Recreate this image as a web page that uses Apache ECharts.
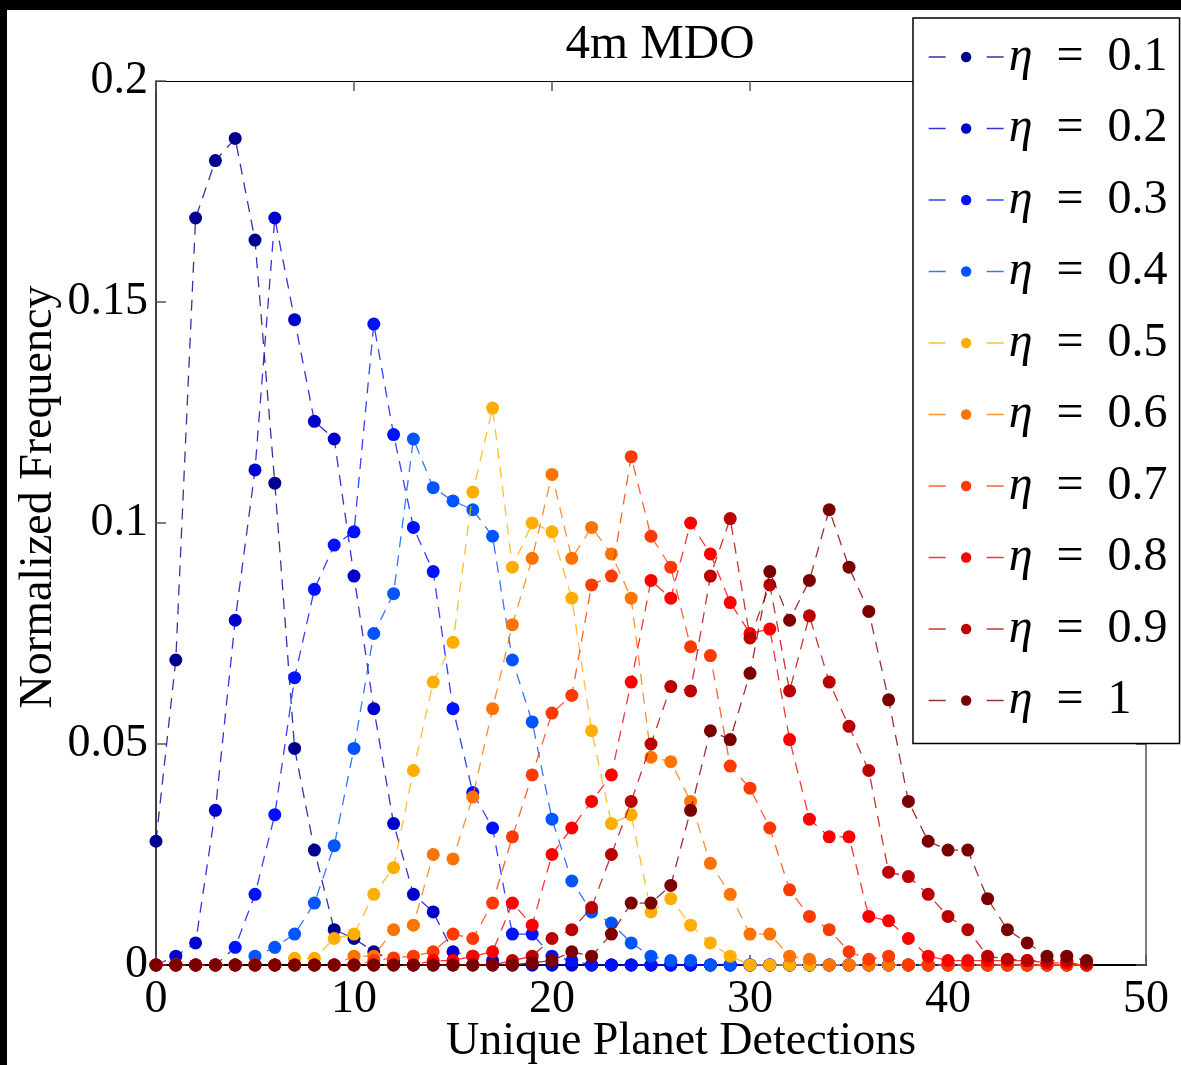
<!DOCTYPE html>
<html>
<head>
<meta charset="utf-8">
<script src="https://cdn.jsdelivr.net/npm/echarts@6/dist/echarts.min.js"></script>
<style>
html,body{margin:0;padding:0;background:#000;width:1181px;height:1065px;overflow:hidden;}
#chart{position:absolute;left:7px;top:10px;width:1174px;height:1055px;background:#fff;}
</style>
</head>
<body>
<div id="chart"></div>
<script>
// Unique planet detections (x), 0..47
const detections = Array.from({length: 48}, (_, i) => i);
const etaLabels = ['0.1','0.2','0.3','0.4','0.5','0.6','0.7','0.8','0.9','1'];
const xTicks = [0, 10, 20, 30, 40, 50];
const yTicks = [0, 0.05, 0.1, 0.15, 0.2];

const eta01 = [0.028,0.069,0.169,0.182,0.187,0.164,0.109,0.049,0.026,0.008,0.006,0.003,0.001,0,0,0,0,0,0,0,0,0,0,0,0,0,0,0,0,0,0,0,0,0,0,0,0,0,0,0,0,0,0,0,0,0,0,0];
const eta02 = [0,0.002,0.005,0.035,0.078,0.112,0.169,0.146,0.123,0.119,0.088,0.058,0.032,0.016,0.012,0.003,0.002,0.001,0,0,0,0,0,0,0,0,0,0,0,0,0,0,0,0,0,0,0,0,0,0,0,0,0,0,0,0,0,0];
const eta03 = [0,0,0,0,0.004,0.016,0.034,0.065,0.085,0.095,0.098,0.145,0.120,0.099,0.089,0.058,0.039,0.031,0.007,0.007,0.002,0.001,0,0,0,0,0,0,0,0,0,0,0,0,0,0,0,0,0,0,0,0,0,0,0,0,0,0];
const eta04 = [0,0,0,0,0,0.002,0.004,0.007,0.014,0.027,0.049,0.075,0.084,0.119,0.108,0.105,0.103,0.097,0.069,0.055,0.033,0.019,0.012,0.0095,0.005,0.002,0.001,0.001,0,0,0,0,0,0,0,0,0,0,0,0,0,0,0,0,0,0,0,0];
const eta05 = [0,0,0,0,0,0,0,0.0015,0.0015,0.006,0.007,0.016,0.022,0.044,0.064,0.073,0.107,0.126,0.090,0.100,0.098,0.083,0.053,0.032,0.034,0.012,0.015,0.009,0.005,0.002,0,0,0,0,0,0,0,0,0,0,0,0,0,0,0,0,0,0];
const eta06 = [0,0,0,0,0,0,0,0,0,0,0.002,0.002,0.008,0.009,0.025,0.024,0.038,0.058,0.077,0.092,0.111,0.092,0.099,0.093,0.083,0.047,0.046,0.037,0.023,0.016,0.007,0.007,0.002,0.0013,0,0,0,0,0,0,0,0,0,0,0,0,0,0];
const eta07 = [0,0,0,0,0,0,0,0,0,0,0,0.001,0.0016,0.002,0.003,0.007,0.006,0.014,0.029,0.043,0.057,0.061,0.086,0.088,0.115,0.097,0.090,0.072,0.070,0.045,0.040,0.031,0.017,0.011,0.008,0.003,0.0013,0.002,0,0,0,0,0,0,0,0,0,0];
const eta08 = [0,0,0,0,0,0,0,0,0,0,0,0,0,0,0.001,0.001,0.002,0.003,0.014,0.009,0.025,0.031,0.037,0.043,0.064,0.087,0.083,0.100,0.093,0.082,0.075,0.076,0.051,0.033,0.029,0.029,0.011,0.010,0.006,0.002,0.001,0.001,0.001,0.001,0.001,0.0005,0.0005,0];
const eta09 = [0,0,0,0,0,0,0,0,0,0,0,0,0,0,0,0,0,0,0.001,0.002,0.006,0.008,0.013,0.025,0.037,0.050,0.063,0.062,0.088,0.101,0.074,0.086,0.062,0.079,0.064,0.054,0.044,0.021,0.020,0.016,0.011,0.008,0.002,0.0013,0.001,0.001,0.001,0.0005];
const eta10 = [0,0,0,0,0,0,0,0,0,0,0,0,0,0,0,0,0,0,0,0.0005,0.001,0.003,0.002,0.007,0.014,0.014,0.018,0.035,0.053,0.051,0.066,0.089,0.078,0.087,0.103,0.090,0.080,0.060,0.037,0.028,0.026,0.026,0.015,0.008,0.005,0.002,0.002,0.001];

const allSeries = [eta01, eta02, eta03, eta04, eta05, eta06, eta07, eta08, eta09, eta10];
const colors = ['#00008F','#0000CC','#0011FF','#0055FF','#FFAE00','#FF7300','#FF3A00','#FF0000','#BB0000','#7A0000'];

const FONT = 'Liberation Serif';

const series = allSeries.map((vals, k) => ({
  name: 'η = ' + etaLabels[k],
  type: 'line',
  data: detections.map((x, i) => [x, vals[i]]),
  symbol: 'circle',
  symbolSize: 13,
  showAllSymbol: true,
  clip: false,
  color: colors[k],
  itemStyle: {color: colors[k]},
  lineStyle: {color: colors[k], width: 1.3, type: [11, 8], opacity: 0.8},
  emphasis: {disabled: true},
  animation: false,
  z: 2 + k
}));

const chart = echarts.init(document.getElementById('chart'), null, {renderer: 'canvas'});
chart.setOption({
  backgroundColor: '#fff',
  animation: false,
  title: {
    text: '4m MDO',
    left: 648, top: 6, textAlign: 'center',
    textStyle: {fontFamily: FONT, fontSize: 49, fontWeight: 'normal', color: '#000'}
  },
  grid: {left: 149, top: 71, right: 35, bottom: 100, containLabel: false, outerBoundsMode: 'none'},
  xAxis: [{
    type: 'value', min: 0, max: 50, interval: 10,
    name: 'Unique Planet Detections', nameLocation: 'middle', nameGap: 54,
    nameMoveOverlap: false,
    nameTextStyle: {fontFamily: FONT, fontSize: 46, color: '#000', padding: [0, 0, 0, 60]},
    axisLine: {show: true, onZero: false, lineStyle: {color: '#000', width: 2}},
    axisTick: {show: true, inside: true, length: 10, lineStyle: {color: '#555', width: 1.5}},
    axisLabel: {fontFamily: FONT, fontSize: 46, color: '#000', margin: 12},
    splitLine: {show: false}
  }, {
    type: 'value', min: 0, max: 50, interval: 10, position: 'top',
    axisLine: {show: true, onZero: false, lineStyle: {color: '#000', width: 1.2}},
    axisTick: {show: true, inside: true, length: 10, lineStyle: {color: '#555', width: 1.5}},
    axisLabel: {show: false}, splitLine: {show: false}
  }],
  yAxis: [{
    type: 'value', min: 0, max: 0.2, interval: 0.05,
    name: 'Normalized Frequency', nameLocation: 'middle', nameGap: 94,
    nameMoveOverlap: false,
    nameTextStyle: {fontFamily: FONT, fontSize: 46, color: '#000', padding: [0, 0, 0, 52]},
    axisLine: {show: true, onZero: false, lineStyle: {color: '#000', width: 1.5}},
    axisTick: {show: true, inside: true, length: 10, lineStyle: {color: '#555', width: 1.5}},
    axisLabel: {fontFamily: FONT, fontSize: 46, color: '#000', margin: 8},
    splitLine: {show: false}
  }, {
    type: 'value', min: 0, max: 0.2, interval: 0.05, position: 'right',
    axisLine: {show: true, onZero: false, lineStyle: {color: '#555', width: 1.5}},
    axisTick: {show: true, inside: true, length: 10, lineStyle: {color: '#555', width: 1.5}},
    axisLabel: {show: false}, splitLine: {show: false}
  }],
  legend: {
    orient: 'vertical',
    left: 906, top: 8,
    backgroundColor: '#fff',
    borderColor: '#000', borderWidth: 1.5, borderRadius: 0,
    padding: [14, 12, 18, 15],
    itemWidth: 75, itemHeight: 13, itemGap: 21.5,
    selectedMode: false,
    z: 10,
    lineStyle: {type: [17, 41], width: 1.3},
    formatter: name => name.replace('η', '{i|η}').replace(' = ', '  =  '),
    textStyle: {
      fontFamily: FONT, fontSize: 48, color: '#000', lineHeight: 50,
      rich: {i: {fontFamily: FONT, fontSize: 48, fontStyle: 'italic', color: '#000', lineHeight: 50}}
    },
    data: series.map(s => s.name)
  },
  series: series
});
</script>
</body>
</html>
